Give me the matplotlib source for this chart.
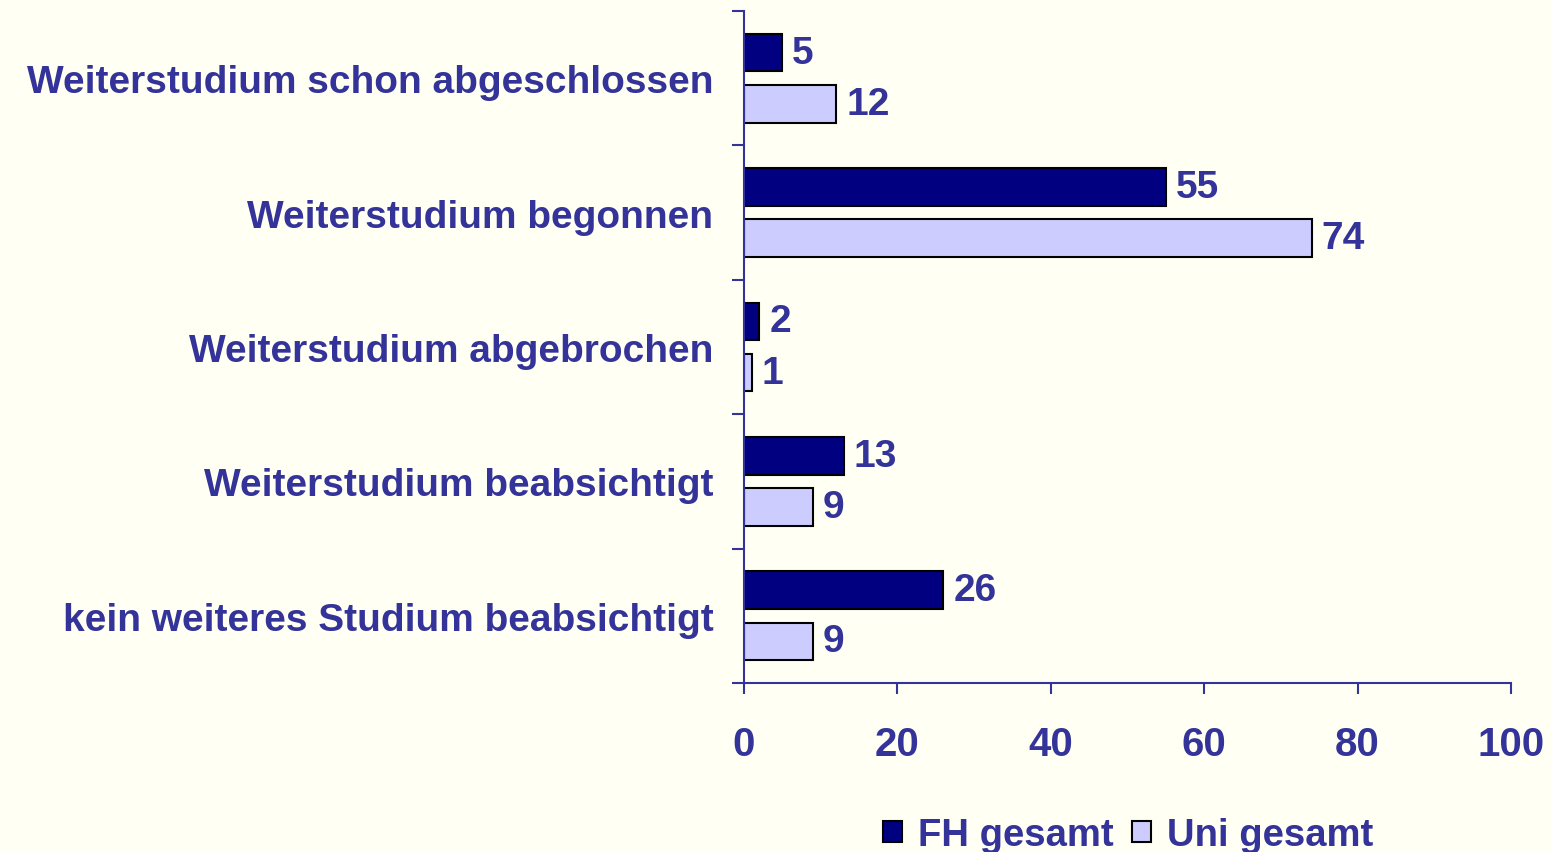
import matplotlib.pyplot as plt
import numpy as np
from matplotlib.patches import Patch

categories = ['Weiterstudium schon abgeschlossen', 'Weiterstudium begonnen',
              'Weiterstudium abgebrochen', 'Weiterstudium beabsichtigt',
              'kein weiteres Studium beabsichtigt']
fh_values = [5, 55, 2, 13, 26]
uni_values = [12, 74, 1, 9, 9]
x_ticks = [0, 20, 40, 60, 80, 100]

TEXT = '#333399'
BG = '#FFFFF4'
FH_COLOR = '#000080'
UNI_COLOR = '#CCCCFF'

plt.rcParams['font.family'] = ['Liberation Sans', 'DejaVu Sans']
plt.rcParams['font.weight'] = 'bold'

fig = plt.figure(figsize=(15.51, 8.53), dpi=100, facecolor=BG)
ax = fig.add_axes([744 / 1551, 1 - 684 / 853, 767 / 1551, 672 / 853])
ax.set_facecolor(BG)

y = np.arange(len(categories))
h = 0.28
off = 0.19
ax.barh(y - off, fh_values, height=h, color=FH_COLOR, edgecolor='black', linewidth=1.5, label='FH gesamt')
ax.barh(y + off, uni_values, height=h, color=UNI_COLOR, edgecolor='black', linewidth=1.5, label='Uni gesamt')

for yi, v in zip(y, fh_values):
    ax.text(v + 1.3, yi - off, str(v), va='center', ha='left', fontsize=28, color=TEXT, fontweight='bold')
for yi, v in zip(y, uni_values):
    ax.text(v + 1.3, yi + off, str(v), va='center', ha='left', fontsize=28, color=TEXT, fontweight='bold')

ax.set_xlim(0, 100)
ax.set_ylim(len(categories) - 0.5, -0.5)
ax.set_xticks(x_ticks)
ax.set_xticklabels([str(t) for t in x_ticks], fontsize=29, color=TEXT, fontweight='bold')
ax.set_yticks(y)
ax.set_yticklabels(categories, fontsize=28, color=TEXT, fontweight='bold')
ax.set_yticks(np.arange(-0.5, len(categories)), minor=True)

ax.tick_params(axis='y', which='major', length=0, pad=22)
ax.tick_params(axis='y', which='minor', length=9, width=1.5, color=TEXT, direction='out')
ax.tick_params(axis='x', length=8, width=1.5, color=TEXT, direction='out', pad=22)

for s in ['top', 'right']:
    ax.spines[s].set_visible(False)
for s in ['left', 'bottom']:
    ax.spines[s].set_color(TEXT)
    ax.spines[s].set_linewidth(1.5)

handles = [Patch(facecolor=FH_COLOR, edgecolor='black', linewidth=1.5, label='FH gesamt'),
           Patch(facecolor=UNI_COLOR, edgecolor='black', linewidth=1.5, label='Uni gesamt')]
leg = fig.legend(handles=handles, loc='center', bbox_to_anchor=(1128 / 1551, 1 - 836 / 853),
                 ncol=2, frameon=False, fontsize=27.5, handlelength=0.5, handleheight=0.5,
                 handletextpad=0.4, columnspacing=0.5, borderpad=0.2)
for t in leg.get_texts():
    t.set_color(TEXT)
    t.set_fontweight('bold')

fig.savefig('out.png', dpi=100, facecolor=BG)
